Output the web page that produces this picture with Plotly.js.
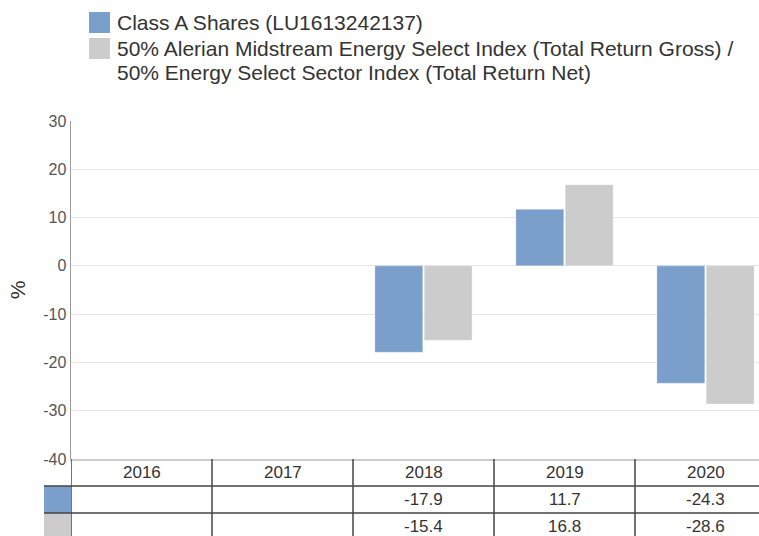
<!DOCTYPE html>
<html>
<head>
<meta charset="utf-8">
<script src="https://cdn.plot.ly/plotly-3.0.1.min.js"></script>
<style>
html,body{margin:0;padding:0;overflow:hidden;background:#fff;}
#chart{width:759px;height:536px;}
</style>
</head>
<body>
<div id="chart"></div>
<script>
const categories = ["2016", "2017", "2018", "2019", "2020"];
const seriesNames = [
  "Class A Shares (LU1613242137)",
  "50% Alerian Midstream Energy Select Index (Total Return Gross) /<br>50% Energy Select Sector Index (Total Return Net)"
];
const classA = [null, null, -17.9, 11.7, -24.3];
const benchmark = [null, null, -15.4, 16.8, -28.6];
const colors = ["#7a9fcb", "#cccccc"];
const yTicks = [30, 20, 10, 0, -10, -20, -30, -40];

const seriesValues = [classA, benchmark];
const font = "Liberation Sans, Arial, sans-serif";

const traces = seriesValues.map((vals, i) => ({
  type: "bar",
  x: categories,
  y: vals,
  name: seriesNames[i].replace("<br>", " "),
  marker: {color: colors[i], line: {color: "rgba(255,255,255,0.6)", width: 0.5}},
  hoverinfo: "skip",
  showlegend: false
}));

// plot geometry (pixels)
const H = 536, plotTop = 121, plotBottom = 459;
const ph = plotBottom - plotTop;
const py = p => (plotBottom - p) / ph;  // pixel -> paper y
const px = p => (p - 71) / 688;         // pixel -> paper x

const shapes = [];
const annotations = [];

// legend (custom)
const legY = [12, 38];
const lineStep = 23.5;
seriesNames.forEach((n, i) => {
  shapes.push({type: "rect", xref: "paper", yref: "paper", layer: "above",
    x0: px(89), x1: px(110), y0: py(legY[i] + 21), y1: py(legY[i]),
    fillcolor: colors[i], line: {width: 0}});
  n.split("<br>").forEach((ln, j) => {
    annotations.push({xref: "paper", yref: "paper", x: px(115), y: py(legY[i] + 10.5 + j * lineStep),
      xanchor: "left", yanchor: "middle", align: "left", showarrow: false,
      text: ln, font: {family: font, size: 21, color: "#333"}});
  });
});

// data table
const rowEdges = [459, 486, 513, 560];
const lineCol = "#444";
[486, 513].forEach(yy => {
  shapes.push({type: "line", xref: "paper", yref: "paper", x0: px(44), x1: 1.1,
    y0: py(yy), y1: py(yy), line: {color: lineCol, width: 1.5}});
});
for (let k = 0; k <= categories.length; k++) {
  shapes.push({type: "line", xref: "x", yref: "paper", x0: k - 0.5, x1: k - 0.5,
    y0: py(459), y1: py(560), line: {color: lineCol, width: 1.5}});
}
seriesValues.forEach((vals, i) => {
  shapes.push({type: "rect", xref: "paper", yref: "paper",
    x0: px(44), x1: 0, y0: py(rowEdges[i + 2]), y1: py(rowEdges[i + 1]),
    fillcolor: colors[i], line: {width: 0}, layer: "below"});
});
categories.forEach((c, k) => {
  annotations.push({xref: "x", yref: "paper", x: k, y: py(472.5), yanchor: "middle",
    showarrow: false, text: c, font: {family: font, size: 17, color: "#333"}});
});
const rowCenters = [499.5, 526];
seriesValues.forEach((vals, i) => {
  vals.forEach((v, k) => {
    if (v === null) return;
    annotations.push({xref: "x", yref: "paper", x: k, y: py(rowCenters[i]), yanchor: "middle",
      showarrow: false, text: v.toFixed(1), font: {family: font, size: 17, color: "#333"}});
  });
});

const layout = {
  width: 759, height: 536,
  margin: {l: 71, r: 0, t: plotTop, b: H - plotBottom, pad: 0},
  paper_bgcolor: "#fff", plot_bgcolor: "#fff",
  barmode: "group", bargap: 0.3, bargroupgap: 0.03,
  font: {family: font, color: "#333"},
  xaxis: {
    type: "category", range: [-0.5, -0.5 + 688 / 141],
    showticklabels: false, showgrid: false, zeroline: false,
    showline: true, linecolor: "#cccccc", linewidth: 1.5, ticks: ""
  },
  yaxis: {
    range: [-40, 30], tickvals: yTicks, ticktext: yTicks.map(String),
    showgrid: true, gridcolor: "#e6e6e6", gridwidth: 1, zeroline: false,
    showline: true, linecolor: "#999", linewidth: 1.5,
    ticks: "", ticklen: 0, tickfont: {family: font, size: 16, color: "#555"},
    title: {text: "%", font: {family: font, size: 21, color: "#333"}, standoff: 12}
  },
  shapes: shapes,
  annotations: annotations
};

Plotly.newPlot("chart", traces, layout, {displayModeBar: false, staticPlot: true});
</script>
</body>
</html>
